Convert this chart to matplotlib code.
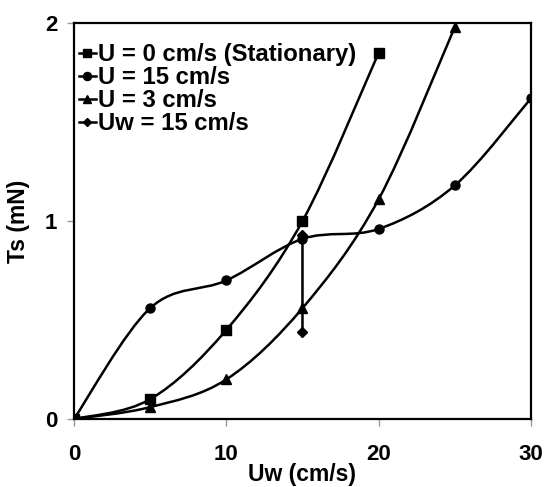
import numpy as np
import matplotlib
matplotlib.use("Agg")
import matplotlib.pyplot as plt
from matplotlib.path import Path
from matplotlib.patches import PathPatch
from matplotlib.lines import Line2D

plt.rcParams["font.family"] = ["Liberation Sans", "DejaVu Sans"]
plt.rcParams["font.weight"] = "bold"

# ── Data ───────────────────────────────────────────────────────────────────
uw_stat = [0, 5, 10, 15, 20]
ts_stat = [0, 0.10, 0.45, 1.00, 1.85]

uw_u15 = [0, 5, 10, 15, 20, 25, 30]
ts_u15 = [0, 0.56, 0.70, 0.91, 0.96, 1.18, 1.62]

uw_u3 = [0, 5, 10, 15, 20, 25]
ts_u3 = [0, 0.06, 0.20, 0.56, 1.11, 1.98]

uw_w15 = [15, 15]
ts_w15 = [0.44, 0.93]

labels = ["U = 0 cm/s (Stationary)", "U = 15 cm/s", "U = 3 cm/s", "Uw = 15 cm/s"]
markers = ["s", "o", "^", "D"]
msizes = [6.5, 6.5, 6.5, 5]


def smooth_path(x, y):
    # Excel-like smoothed line: cubic Bezier with Catmull-Rom control points
    pts = np.column_stack([x, y]).astype(float)
    verts = [pts[0]]
    codes = [Path.MOVETO]
    n = len(pts)
    for i in range(n - 1):
        p0 = pts[i - 1] if i > 0 else pts[i]
        p1 = pts[i]
        p2 = pts[i + 1]
        p3 = pts[i + 2] if i + 2 < n else pts[i + 1]
        c1 = p1 + (p2 - p0) / 6.0
        c2 = p2 - (p3 - p1) / 6.0
        verts += [c1, c2, p2]
        codes += [Path.CURVE4] * 3
    return Path(verts, codes)


fig = plt.figure(figsize=(5.46, 4.87), dpi=100)
ax = fig.add_axes([0.1355, 0.1396, 0.837, 0.813])

series = [(uw_stat, ts_stat), (uw_u15, ts_u15), (uw_u3, ts_u3), (uw_w15, ts_w15)]
for (x, y), m, ms in zip(series, markers, msizes):
    ax.add_patch(PathPatch(smooth_path(x, y), fill=False, lw=1.8, color="black"))
    ax.plot(x, y, ls="none", marker=m, ms=ms, color="black")

ax.set_xlim(0, 30)
ax.set_ylim(0, 2)
ax.set_xticks([0, 10, 20, 30])
ax.set_yticks([0, 1, 2])
ax.tick_params(direction="out", length=5, width=1, color="#999999",
               labelsize=16)
ax.tick_params(axis="x", pad=13)
ax.tick_params(axis="y", pad=7)
for lab in ax.get_xticklabels() + ax.get_yticklabels():
    lab.set_fontweight("bold")
for s in ax.spines.values():
    s.set_linewidth(1.6)
    s.set_color("black")

ax.set_xlabel("Uw (cm/s)", fontsize=16.5, fontweight="bold", labelpad=-1.5)
ax.set_ylabel("Ts (mN)", fontsize=16.5, fontweight="bold", labelpad=11)

handles = [Line2D([], [], color="black", lw=1.8, marker=m, ms=ms * 0.9)
           for m, ms in zip(markers, msizes)]
ax.legend(handles, labels, loc="upper left", frameon=False,
          prop={"size": 17.2, "weight": "bold"}, handlelength=0.72,
          handletextpad=0.1, labelspacing=0.0, borderaxespad=0.0,
          borderpad=0.0, bbox_to_anchor=(0.01, 0.95))

fig.savefig("out.png", dpi=100)
